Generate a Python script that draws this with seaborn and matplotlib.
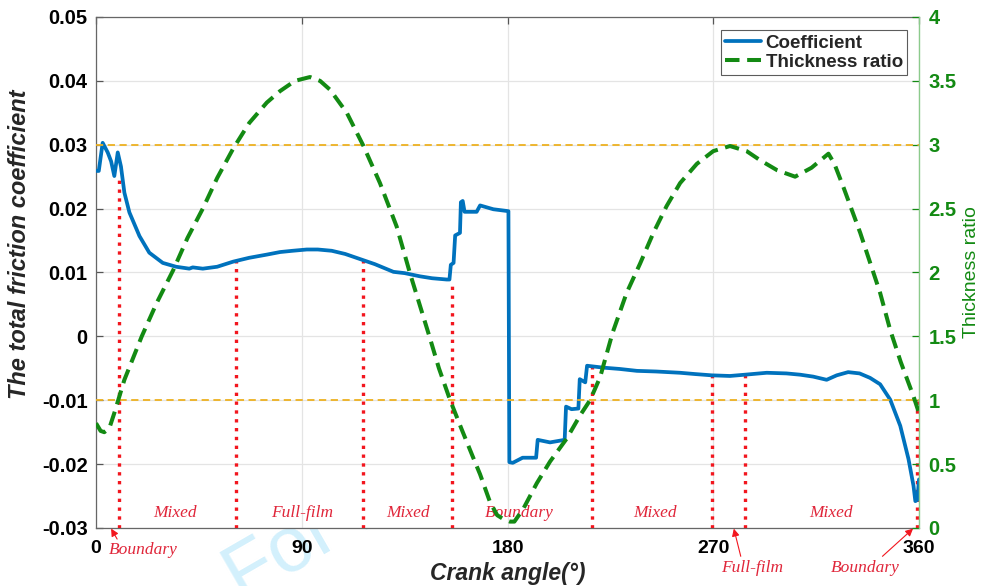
import matplotlib
matplotlib.use("Agg")
import matplotlib.pyplot as plt
from matplotlib.lines import Line2D
import seaborn as sns

# ---------------- data ----------------
# total friction coefficient vs crank angle
coef_angle = [0, 1.2, 2.9, 5.1, 6.6, 8.0, 9.5, 10.9, 12.4, 14.6, 19, 23.3, 29.2, 35,
              40.8, 42.3, 46.7, 53, 60, 67, 74.7, 80.5, 86, 92.2, 97, 103.1, 109,
              115.5, 122, 130.1, 135, 141.7, 147, 153.4, 154.6, 155.2, 156.4, 157.1,
              159.2, 159.6, 160.4, 161.2, 166.5, 168, 173.8, 180.4, 180.8, 182.3,
              186.6, 192.5, 193.2, 198.6, 205, 205.6, 208, 211, 211.6, 214, 214.8,
              222, 229, 236.6, 245, 255.5, 262, 269.3, 277.3, 283.9, 293.4, 302,
              308, 313.7, 319.6, 324, 329, 334, 338.6, 343, 347.4, 351.8, 355.4,
              357.6, 358.4, 359.3, 360]
coef_value = [0.0259, 0.0259, 0.0303, 0.0288, 0.0274, 0.0251, 0.0288, 0.0266, 0.0225,
              0.0194, 0.0157, 0.0131, 0.0115, 0.0109, 0.0106, 0.0108, 0.0106, 0.0109,
              0.0117, 0.0123, 0.0128, 0.0132, 0.0134, 0.0136, 0.0136, 0.0134, 0.0129,
              0.0121, 0.0113, 0.0101, 0.0099, 0.0094, 0.0091, 0.0089, 0.0089, 0.0112,
              0.0115, 0.0158, 0.0162, 0.0210, 0.0212, 0.0195, 0.0195, 0.0205, 0.0199,
              0.0196, -0.0197, -0.0198, -0.0190, -0.0190, -0.0162, -0.0166, -0.0162,
              -0.0110, -0.0114, -0.0113, -0.0067, -0.0072, -0.0046, -0.0049, -0.0051,
              -0.0054, -0.0055, -0.0057, -0.0059, -0.0061, -0.0062, -0.0060, -0.0057,
              -0.0058, -0.0060, -0.0063, -0.0068, -0.0061, -0.0056, -0.0058, -0.0065,
              -0.0075, -0.0099, -0.0140, -0.0192, -0.0234, -0.0258, -0.0256, -0.0224]

# film thickness ratio vs crank angle
thick_angle = [0, 2, 3.6, 5.8, 8, 10.2, 12.4, 20, 26.5, 33.8, 40, 46.7, 53, 60, 67,
               74.7, 80.5, 87, 93.6, 98, 102.4, 109.7, 117, 124.2, 131.5, 137.4,
               141.7, 146, 150, 154.9, 160, 165, 168, 172.4, 175.5, 178.2, 181, 183,
               186.9, 192.8, 198.6, 205.9, 211.7, 216.1, 220.5, 226, 232.1, 238,
               243.8, 249.6, 255.5, 262.8, 270, 277.3, 284.6, 290.4, 298, 305.8, 313,
               320.4, 323, 326.9, 334.3, 343, 347.4, 352, 357.6, 360]
thick_value = [0.82, 0.76, 0.75, 0.78, 0.90, 1.03, 1.16, 1.50, 1.76, 2.02, 2.27, 2.50,
               2.74, 2.97, 3.17, 3.33, 3.42, 3.50, 3.53, 3.50, 3.43, 3.25, 2.99, 2.70,
               2.36, 1.99, 1.74, 1.49, 1.25, 1.00, 0.77, 0.55, 0.42, 0.20, 0.10, 0.07,
               0.05, 0.05, 0.15, 0.35, 0.52, 0.70, 0.88, 1.00, 1.18, 1.53, 1.84, 2.07,
               2.31, 2.52, 2.70, 2.85, 2.95, 2.99, 2.95, 2.88, 2.80, 2.75, 2.82, 2.93,
               2.85, 2.67, 2.31, 1.84, 1.55, 1.30, 1.03, 0.90]

# lubrication regime boundaries (crank angle) and the height each marker reaches
regime_angle = [10, 61.3, 116.7, 155.7, 216.8, 269.4, 283.8, 359.2]
regime_top = [0.0246, 0.0120, 0.0120, 0.0086, -0.0047, -0.0060, -0.0060, -0.0100]

# regime names written inside the plot
regime_name = ["Mixed", "Full-film", "Mixed", "Boundary", "Mixed", "Mixed"]
regime_name_angle = [34.6, 90, 136.5, 185, 244.5, 321.6]

# regime names written under the axis, with the angle they point at
note_name = ["Boundary", "Full-film", "Boundary"]
note_target = [6.6, 279, 357.4]
note_text_angle = [20.6, 287, 336.4]
note_text_value = [-0.0335, -0.0362, -0.0362]

# thickness-ratio thresholds between regimes
ratio_limits = [1, 3]

x_ticks = [0, 90, 180, 270, 360]
left_ticks = [-0.03, -0.02, -0.01, 0, 0.01, 0.02, 0.03, 0.04, 0.05]
left_ticklabels = ["-0.03", "-0.02", "-0.01", "0", "0.01", "0.02", "0.03", "0.04", "0.05"]
right_ticks = [0, 0.5, 1, 1.5, 2, 2.5, 3, 3.5, 4]
right_ticklabels = ["0", "0.5", "1", "1.5", "2", "2.5", "3", "3.5", "4"]

# ---------------- style ----------------
BLUE = "#0072BD"
GREEN = "#138A13"
GREEN_SPINE = "#8CCB8C"
YELLOW = "#EDB120"
RED_LINE = "#F2161E"
RED_TEXT = "#E0263A"
DASH = (0, (3.6, 1.9))

sns.set_theme(style="white")
plt.rcParams["font.family"] = ["Liberation Sans", "DejaVu Sans"]

fig = plt.figure(figsize=(9.87, 5.86), dpi=100)
fig.patch.set_facecolor("white")

# faint watermark sitting under the axes
fig.text(213 / 987, 1 - 553 / 586, "For Peer Review", rotation=30,
         rotation_mode="anchor", ha="left", va="top", fontsize=56,
         color="#D3F0FC", zorder=-10)

ax = fig.add_axes([0.0973, 0.099, 0.8338, 0.872])
ax2 = ax.twinx()

# friction coefficient (left axis)
sns.lineplot(x=coef_angle, y=coef_value, ax=ax, color=BLUE, linewidth=2.7,
             estimator=None, sort=False, zorder=4)

# regime boundary markers
ax.vlines(regime_angle, -0.03, regime_top, colors=RED_LINE, linestyles=":",
          linewidth=2.4, zorder=3)

for name, ang in zip(regime_name, regime_name_angle):
    ax.text(ang, -0.0276, name, ha="center", va="center", color=RED_TEXT,
            fontsize=12.5, fontstyle="italic", family="Liberation Serif", zorder=5)

relpos = [(0.15, 1.0), (0.33, 1.0), (0.7, 1.0)]
for name, tgt, tx, ty, rp in zip(note_name, note_target, note_text_angle,
                                 note_text_value, relpos):
    ax.annotate(name, xy=(tgt, -0.0301), xytext=(tx, ty),
                ha="center", va="center", color=RED_TEXT, fontsize=12.5,
                fontstyle="italic", family="Liberation Serif",
                annotation_clip=False,
                arrowprops=dict(arrowstyle="-|>", color=RED_LINE, lw=0.8,
                                mutation_scale=11, shrinkA=0, shrinkB=0, relpos=rp))

# film thickness ratio (right axis)
sns.lineplot(x=thick_angle, y=thick_value, ax=ax2, color=GREEN, linewidth=2.9,
             estimator=None, sort=False, linestyle=DASH, zorder=4)

for lim in ratio_limits:
    ax2.axhline(lim, color=YELLOW, linewidth=1.3, linestyle=(0, (4, 2.5)), zorder=2)

# axes limits, ticks and labels
ax.set_xlim(0, 360)
ax.set_ylim(-0.03, 0.05)
ax2.set_ylim(0, 4)

ax.set_xticks(x_ticks)
ax.set_xticklabels([str(t) for t in x_ticks], fontweight="bold", fontsize=14)
ax.set_yticks(left_ticks)
ax.set_yticklabels(left_ticklabels, fontweight="bold", fontsize=14.5)
ax2.set_yticks(right_ticks)
ax2.set_yticklabels(right_ticklabels, fontweight="bold", fontsize=14.5, color=GREEN)

ax.grid(True, color="#E4E4E4", linewidth=0.9)
ax.set_axisbelow(True)
ax2.grid(False)

ax.tick_params(axis="both", direction="in", length=5, width=0.9, color="#555555",
               top=True, right=False, labelcolor="black")
ax.tick_params(axis="y", pad=6)
ax.tick_params(axis="x", pad=9)
ax2.tick_params(axis="y", direction="in", length=5, width=0.9, color=GREEN,
                labelcolor=GREEN, pad=7)

for side in ["left", "bottom", "top"]:
    ax.spines[side].set_color("#666666")
    ax.spines[side].set_linewidth(0.9)
    ax2.spines[side].set_visible(False)
ax2.spines["right"].set_color(GREEN_SPINE)
ax2.spines["right"].set_linewidth(1.0)
ax.spines["right"].set_visible(False)

ax.set_xlabel("Crank angle(°)", fontsize=16.5, fontweight="bold", fontstyle="italic")
ax.xaxis.set_label_coords(0.5, -0.067)
ax.set_ylabel("The total friction coefficient", fontsize=17, fontweight="bold",
              fontstyle="italic")
ax.yaxis.set_label_coords(-0.079, 0.555)
ax2.set_ylabel("Thickness ratio", fontsize=14, color=GREEN)
ax2.yaxis.set_label_coords(1.053, 0.5)

handles = [Line2D([0], [0], color=BLUE, lw=2.7),
           Line2D([0], [0], color=GREEN, lw=2.9, linestyle=DASH)]
leg = ax2.legend(handles, ["Coefficient", "Thickness ratio"], loc="upper right",
                 bbox_to_anchor=(0.986, 0.975), frameon=True, fancybox=False,
                 prop={"weight": "bold", "size": 13.5}, handlelength=1.9,
                 borderpad=0.25, labelspacing=0.1, handletextpad=0.25,
                 borderaxespad=0)
leg.get_frame().set_edgecolor("#333333")
leg.get_frame().set_linewidth(0.8)

fig.savefig("out.png", dpi=100, facecolor="white")
